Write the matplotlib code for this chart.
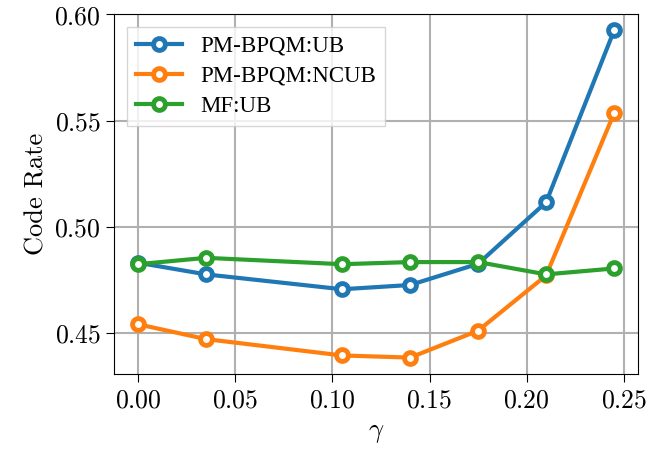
import matplotlib
matplotlib.use('Agg')
import matplotlib.pyplot as plt
from matplotlib.ticker import FuncFormatter

gamma = [0.0, 0.035, 0.105, 0.14, 0.175, 0.21, 0.245]
pm_ub = [0.483, 0.4775, 0.4705, 0.4725, 0.4825, 0.5115, 0.5925]
pm_ncub = [0.454, 0.447, 0.4393, 0.4383, 0.451, 0.477, 0.5535]
mf_ub = [0.4823, 0.4853, 0.4823, 0.4833, 0.4833, 0.4775, 0.4803]
labels = ['PM-BPQM:UB', 'PM-BPQM:NCUB', 'MF:UB']

plt.rcParams['mathtext.fontset'] = 'cm'
plt.rcParams['axes.unicode_minus'] = False

fig, ax = plt.subplots(figsize=(6.49, 4.5), dpi=100)
style = dict(marker='o', lw=3, ms=8.5, mew=3.5, mfc='white')
ax.plot(gamma, pm_ub, color='#1f77b4', label=labels[0], **style)
ax.plot(gamma, pm_ncub, color='#ff7f0e', label=labels[1], **style)
ax.plot(gamma, mf_ub, color='#2ca02c', label=labels[2], **style)

ax.set_xticks([0.0, 0.05, 0.10, 0.15, 0.20, 0.25])
ax.set_yticks([0.45, 0.50, 0.55, 0.60])
fmt = FuncFormatter(lambda v, p: f'${v:.2f}$')
ax.xaxis.set_major_formatter(fmt)
ax.yaxis.set_major_formatter(fmt)
ax.tick_params(labelsize=18.5, length=6)
ax.grid(True, color='#b0b0b0', lw=1.5)
ax.set_axisbelow(True)
ax.set_xlabel(r'$\gamma$', fontsize=19)
ax.set_ylabel('Code Rate', fontsize=19, family='cmr10')
ax.legend(loc='upper left', prop={'family': 'Liberation Serif', 'size': 16.5},
          fancybox=False, handlelength=2, borderaxespad=0.55, labelspacing=0.4,
          framealpha=0.8)
fig.subplots_adjust(left=0.176, right=0.983, top=0.969, bottom=0.169)
fig.savefig('out.png', dpi=100)
